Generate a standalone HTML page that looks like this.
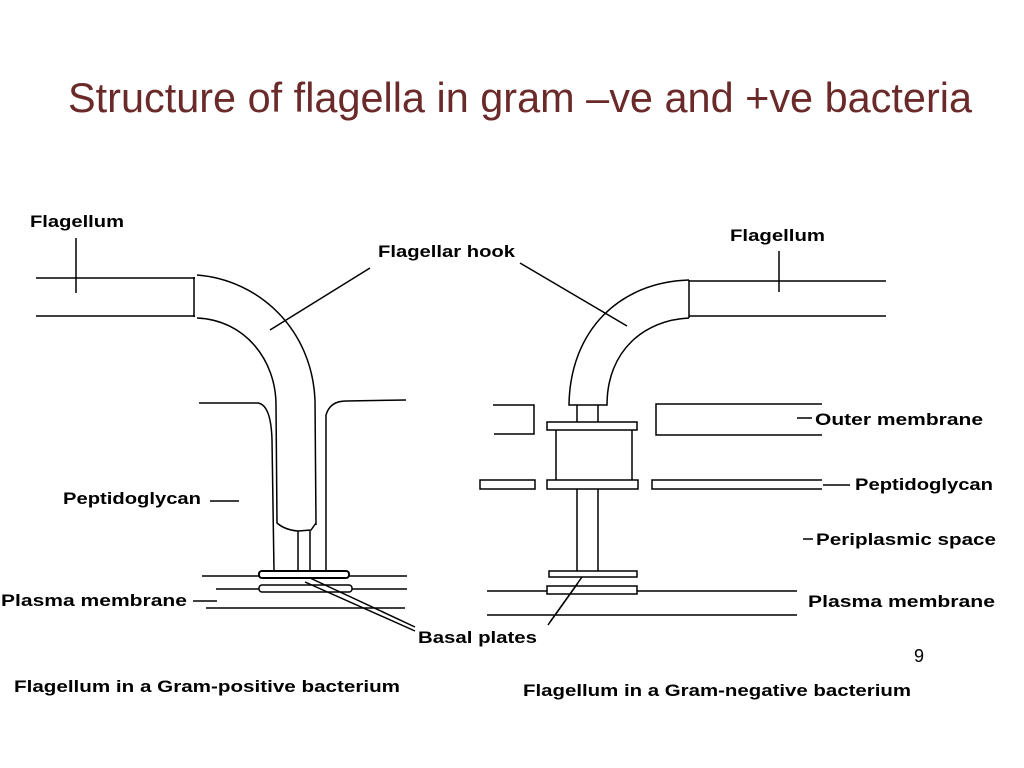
<!DOCTYPE html>
<html><head><meta charset="utf-8"><style>
html,body{margin:0;padding:0;background:#fff;}
svg{display:block;}
.l{font-family:"Liberation Sans",Arial,sans-serif;font-weight:bold;font-size:17px;fill:#000;}
</style></head><body>
<svg width="1024" height="768" viewBox="0 0 1024 768" xmlns="http://www.w3.org/2000/svg">
<text x="68" y="112" font-family="Liberation Sans, sans-serif" font-size="42" fill="#6b2a2a" textLength="904" lengthAdjust="spacingAndGlyphs">Structure of flagella in gram –ve and +ve bacteria</text>
<g stroke="#000" stroke-width="1.5" fill="none">
<!-- LEFT -->
<line x1="76" y1="238" x2="76" y2="293"/>
<line x1="36" y1="278" x2="195" y2="278"/>
<line x1="36" y1="316" x2="195" y2="316"/>
<line x1="194" y1="277" x2="194" y2="317"/>
<path d="M197 275 C260 280 312 330 315 400 L316 525"/>
<path d="M197 318 C245 320 276 360 276 405 L277 523 Q285 530 298 531 L311 530 L316 523"/>
<line x1="298" y1="531" x2="298" y2="571"/>
<line x1="310" y1="531" x2="310" y2="571"/>
<path d="M199 403 L258 403 Q271 405 272 440 L274 571"/>
<path d="M326 571 L326 415 Q330 401 346 401 L406 400"/>
<rect x="259" y="571" width="90" height="7" rx="3" stroke-width="2"/>
<rect x="259" y="585" width="93" height="7" rx="3"/>
<line x1="202" y1="576" x2="259" y2="576"/><line x1="349" y1="576" x2="407" y2="576"/>
<line x1="216" y1="589" x2="259" y2="589"/><line x1="352" y1="589" x2="407" y2="589"/>
<line x1="206" y1="608" x2="405" y2="608"/>
<line x1="210" y1="501" x2="239" y2="501"/>
<line x1="193" y1="601" x2="217" y2="601"/>
<line x1="305" y1="582" x2="415" y2="631"/>
<line x1="310" y1="578" x2="415" y2="627"/>
<line x1="370" y1="268" x2="270" y2="330"/>
<!-- RIGHT -->
<line x1="520" y1="263" x2="627" y2="326"/>
<line x1="779" y1="251" x2="779" y2="292"/>
<line x1="689" y1="281" x2="886" y2="281"/>
<line x1="689" y1="316" x2="886" y2="316"/>
<line x1="689" y1="280" x2="689" y2="318"/>
<path d="M689 280 C620 282 570 330 569 405 L607 405 C607 350 645 320 689 318"/>
<line x1="577" y1="405" x2="577" y2="422"/><line x1="598" y1="405" x2="598" y2="422"/>
<rect x="547" y="422" width="90" height="8"/>
<line x1="556" y1="430" x2="556" y2="480"/><line x1="632" y1="430" x2="632" y2="480"/>
<rect x="547" y="480" width="91" height="9"/>
<rect x="480" y="480" width="55" height="9"/>
<path d="M822 480 L652 480 L652 489 L822 489"/>
<path d="M493 405 L534 405 L534 434 L494 434"/>
<path d="M822 404 L656 404 L656 435 L822 435"/>
<line x1="577" y1="489" x2="577" y2="571"/><line x1="598" y1="489" x2="598" y2="571"/>
<rect x="549" y="571" width="88" height="6"/>
<rect x="547" y="586" width="90" height="8"/>
<line x1="487" y1="591" x2="547" y2="591"/><line x1="637" y1="591" x2="797" y2="591"/>
<line x1="487" y1="615" x2="797" y2="615"/>
<line x1="797" y1="418" x2="812" y2="418"/>
<line x1="823" y1="485" x2="850" y2="485"/>
<line x1="803" y1="539" x2="813" y2="539"/>
<line x1="582" y1="577" x2="550" y2="622"/>
<line x1="578" y1="583" x2="548" y2="625"/>
</g>
<text class="l" x="30" y="227" textLength="94" lengthAdjust="spacingAndGlyphs">Flagellum</text>
<text class="l" x="378" y="257" textLength="137" lengthAdjust="spacingAndGlyphs">Flagellar hook</text>
<text class="l" x="63" y="504" textLength="138" lengthAdjust="spacingAndGlyphs">Peptidoglycan</text>
<text class="l" x="1" y="606" textLength="186" lengthAdjust="spacingAndGlyphs">Plasma membrane</text>
<text class="l" x="418" y="643" textLength="119" lengthAdjust="spacingAndGlyphs">Basal plates</text>
<text class="l" x="730" y="241" textLength="95" lengthAdjust="spacingAndGlyphs">Flagellum</text>
<text class="l" x="815" y="425" textLength="168" lengthAdjust="spacingAndGlyphs">Outer membrane</text>
<text class="l" x="855" y="490" textLength="138" lengthAdjust="spacingAndGlyphs">Peptidoglycan</text>
<text class="l" x="816" y="545" textLength="180" lengthAdjust="spacingAndGlyphs">Periplasmic space</text>
<text class="l" x="808" y="607" textLength="187" lengthAdjust="spacingAndGlyphs">Plasma membrane</text>
<text class="l" x="14" y="692" textLength="386" lengthAdjust="spacingAndGlyphs">Flagellum in a Gram-positive bacterium</text>
<text class="l" x="523" y="696" textLength="388" lengthAdjust="spacingAndGlyphs">Flagellum in a Gram-negative bacterium</text>
<text x="914" y="662" font-family="Liberation Sans, sans-serif" font-size="18" fill="#000">9</text>
</svg>
</body></html>
